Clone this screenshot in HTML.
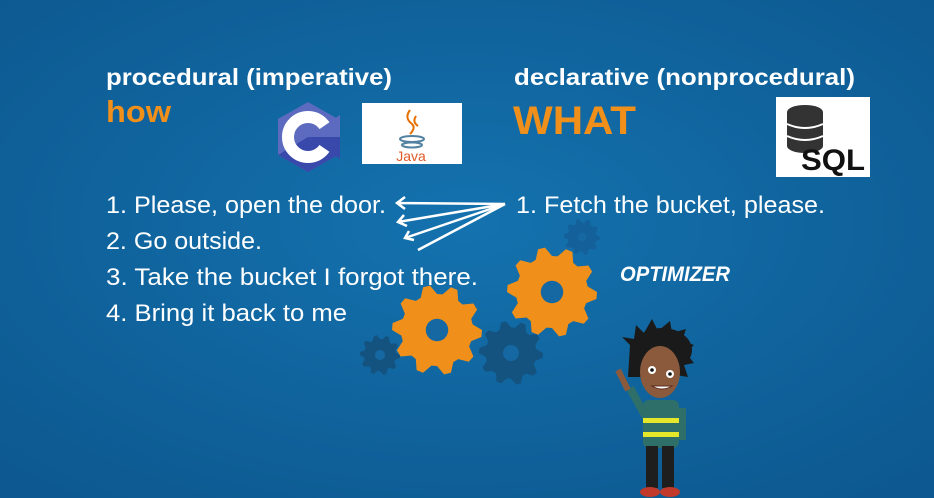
<!DOCTYPE html>
<html><head><meta charset="utf-8"><style>
html,body{margin:0;padding:0;width:934px;height:498px;overflow:hidden}
svg{display:block}
text{font-family:"Liberation Sans",sans-serif}
</style></head><body>
<svg width="934" height="498" viewBox="0 0 934 498">
<defs>
<radialGradient id="bg" cx="50%" cy="45%" r="70%">
<stop offset="0" stop-color="#1472ae"/><stop offset="1" stop-color="#0d5890"/>
</radialGradient>
</defs>
<rect width="934" height="498" fill="url(#bg)"/>
<g id="gears"></g>

<text x="106" y="85" font-size="23" font-weight="bold" fill="#fff" textLength="286" lengthAdjust="spacingAndGlyphs">procedural (imperative)</text>
<text x="106" y="122" font-size="31" font-weight="bold" fill="#f0901a" textLength="65" lengthAdjust="spacingAndGlyphs">how</text>
<text x="514" y="85" font-size="23" font-weight="bold" fill="#fff" textLength="341" lengthAdjust="spacingAndGlyphs">declarative (nonprocedural)</text>
<text x="513" y="134" font-size="40" font-weight="bold" fill="#f0901a" textLength="123" lengthAdjust="spacingAndGlyphs">WHAT</text>

<g>
<polygon points="308,102 338,119 338,155 308,172 278,155 278,119" fill="#5c6bc0"/>
<polygon points="308,137 338,155 308,172 278,155" fill="#3949ab"/>
<circle cx="308" cy="137" r="20" fill="none" stroke="#fff" stroke-width="12"/>
<polygon points="308,137 340,115 340,159" fill="#5c6bc0"/>
<polygon points="308,137 340,137 340,159" fill="#3949ab"/>
</g>
<g>
<rect x="362" y="103" width="100" height="61" fill="#fff"/>
<path d="M410,110 q-6,8 2,14 q4,4 -2,10 M416,116 q-4,6 2,10" stroke="#e76f00" stroke-width="2" fill="none"/>
<ellipse cx="412" cy="139" rx="12" ry="3" fill="none" stroke="#5382a1" stroke-width="2"/>
<ellipse cx="412" cy="145" rx="10" ry="2.5" fill="none" stroke="#5382a1" stroke-width="2"/>
<text x="411" y="161" font-size="14" fill="#e05a2a" text-anchor="middle">Java</text>
</g>
<g>
<rect x="776" y="97" width="94" height="80" fill="#fff"/>
<ellipse cx="805" cy="112" rx="18" ry="7" fill="#333"/>
<rect x="787" y="112" width="36" height="34" fill="#333"/>
<ellipse cx="805" cy="146" rx="18" ry="7" fill="#333"/>
<path d="M787,124 q18,8 36,0 M787,136 q18,8 36,0" stroke="#fff" stroke-width="2" fill="none"/>
<text x="833" y="170" font-size="30" font-weight="bold" fill="#111" text-anchor="middle" textLength="64" lengthAdjust="spacingAndGlyphs">SQL</text>
</g>

<g font-size="24" fill="#fff">
<text x="106" y="213" textLength="280" lengthAdjust="spacingAndGlyphs">1. Please, open the door.</text>
<text x="106" y="249" textLength="156" lengthAdjust="spacingAndGlyphs">2. Go outside.</text>
<text x="106" y="285" textLength="372" lengthAdjust="spacingAndGlyphs">3. Take the bucket I forgot there.</text>
<text x="106" y="321" textLength="241" lengthAdjust="spacingAndGlyphs">4. Bring it back to me</text>
</g>
<text x="516" y="213" font-size="24" fill="#fff" textLength="309" lengthAdjust="spacingAndGlyphs">1. Fetch the bucket, please.</text>

<g stroke="#fff" stroke-width="2.5" fill="none">
<path d="M505,204 L397,203 M405,197 L397,203 L405,209"/>
<path d="M505,204 L398,222 M404,215 L398,222 L407,226"/>
<path d="M505,204 L405,238 M409,231 L405,238 L414,240"/>
<path d="M505,204 L418,250"/>
</g>

<text x="620" y="281" font-size="21" font-weight="bold" font-style="italic" fill="#fff" textLength="110" lengthAdjust="spacingAndGlyphs">OPTIMIZER</text>

<g>
<path d="M630,345 l-8,-8 l12,2 l2,-14 l8,8 l8,-14 l6,12 l12,-10 l2,12 l14,-4 l-4,12 l12,4 l-8,8 l8,10 l-10,2 l4,12 l-12,-2 l0,10 l-8,-8 l-40,0 z" fill="#1a1a1a"/>
<ellipse cx="662" cy="350" rx="30" ry="22" fill="#1a1a1a"/>
<ellipse cx="660" cy="372" rx="20" ry="26" fill="#8b5a3c"/>
<circle cx="652" cy="370" r="4" fill="#fff"/><circle cx="670" cy="374" r="4" fill="#fff"/>
<circle cx="652" cy="370" r="1.8" fill="#111"/><circle cx="670" cy="374" r="1.8" fill="#111"/>
<path d="M652,386 q10,6 20,0 z" fill="#fff" stroke="#5a2a1a"/>
<path d="M630,388 L642,410 L648,420" stroke="#2f6f6a" stroke-width="8" fill="none"/>
<path d="M618,370 L628,390" stroke="#8b5a3c" stroke-width="6"/>
<rect x="643" y="400" width="36" height="48" rx="6" fill="#2f6f6a"/>
<rect x="643" y="418" width="36" height="5" fill="#e5e82a"/>
<rect x="643" y="432" width="36" height="5" fill="#e5e82a"/>
<rect x="646" y="446" width="12" height="42" fill="#1e1e1e"/>
<rect x="662" y="446" width="12" height="42" fill="#1e1e1e"/>
<ellipse cx="650" cy="492" rx="10" ry="5" fill="#c0392b"/>
<ellipse cx="670" cy="492" rx="10" ry="5" fill="#c0392b"/>
<rect x="679" y="408" width="7" height="32" fill="#2f6f6a"/>
</g>
</svg>
<script>
const gearCenters=[[437,330],[552,292],[380,355],[511,353],[582,237]];
const gearRadii=[45,45,20,32,18];
const gearColors=["#f0901a","#f0901a","#14537f","#14537f","#14609a"];
const g=document.getElementById('gears');
const ns="http://www.w3.org/2000/svg";
gearCenters.forEach((c,i)=>{
 const r=gearRadii[i],n=10,ro=r,ri=r*0.8;let d="";
 for(let k=0;k<n*4;k++){const a=k/(n*4)*2*Math.PI;const rr=(k%4<2)?ro:ri;d+=(k?"L":"M")+(c[0]+rr*Math.cos(a)).toFixed(1)+","+(c[1]+rr*Math.sin(a)).toFixed(1);}
 const p=document.createElementNS(ns,"path");p.setAttribute("d",d+"Z");p.setAttribute("fill",gearColors[i]);
 
 
 g.appendChild(p);
 const h=document.createElementNS(ns,"circle");h.setAttribute("cx",c[0]);h.setAttribute("cy",c[1]);h.setAttribute("r",r*0.25);h.setAttribute("fill","#1668a3");
 
 
 g.appendChild(h);
});
</script>
</body></html>
